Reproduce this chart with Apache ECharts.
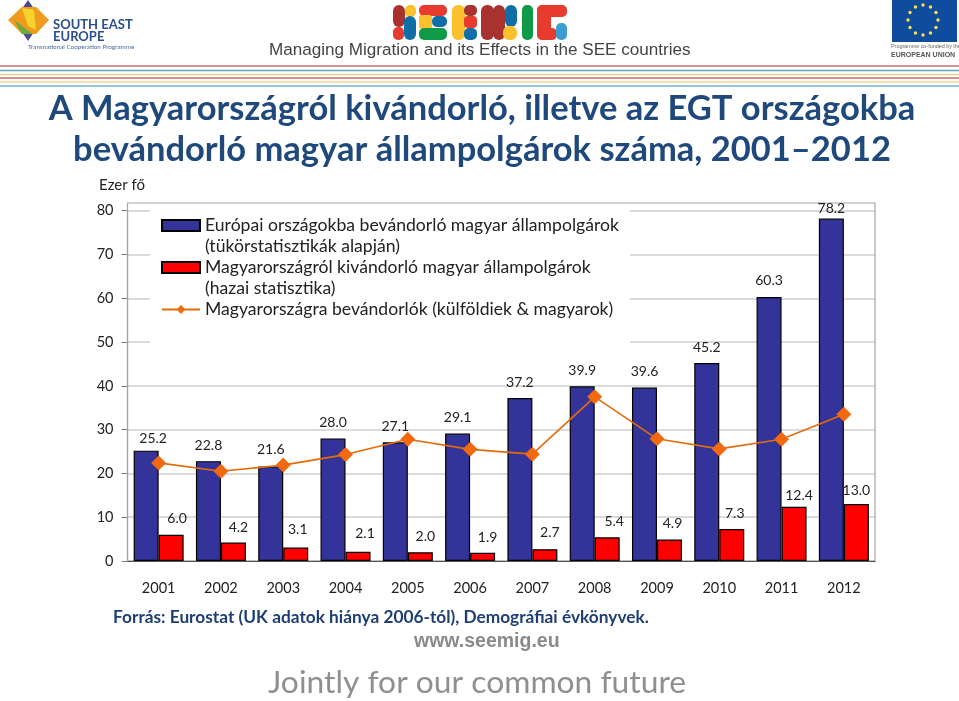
<!DOCTYPE html>
<html><head><meta charset="utf-8">
<style>html,body{margin:0;padding:0;background:#fff}#c{width:959px;height:701px}</style>
<script src="https://cdn.jsdelivr.net/npm/echarts@6/dist/echarts.min.js"></script>
</head><body><div id="c"></div>
<script>
const years = ['2001','2002','2003','2004','2005','2006','2007','2008','2009','2010','2011','2012'];
const emigrantsMirror = [25.2,22.8,21.6,28.0,27.1,29.1,37.2,39.9,39.6,45.2,60.3,78.2];
const emigrantsDomestic = [6.0,4.2,3.1,2.1,2.0,1.9,2.7,5.4,4.9,7.3,12.4,13.0];
const immigrants = [22.4,20.5,21.9,24.3,27.8,25.5,24.4,37.5,27.9,25.6,27.8,33.5];
const yTicks = [0,80,10];
const nameMirror = 'Európai országokba bevándorló magyar állampolgárok\n(tükörstatisztikák alapján)';
const nameDomestic = 'Magyarországról kivándorló magyar állampolgárok\n(hazai statisztika)';
const nameImmigrants = 'Magyarországra bevándorlók (külföldiek & magyarok)';
const mirrorLabelShift = [[7,-5],[0,-9],[0,-10],[0,-9],[0,-9],[0,-9],[0,-9],[0,-9],[0,-9],[0,-9],[0,-9],[0,-3]];
const domesticLabelShift = [[6,-9],[5,-8],[2,-11],[7,-11],[5,-9],[5,-8],[5,-10],[7,-9],[3,-9],[3,-9],[5,-4],[0,-7]];
const FONT = 'Lato';
const labelBase = {show:true,position:'top',distance:0,fontFamily:FONT,fontSize:14,color:'#222',formatter:p=>p.value.toFixed(1)};
const withShift = (vals,shift)=>vals.map((v,i)=>({value:v,label:{offset:shift[i]}}));

const stripes = [[66,'#c4686a'],[70.5,'#5fa5c0'],[74.5,'#e2d48c'],[78,'#d0686a'],[82,'#f0dc8c'],[86,'#6fb5cc']];
const lw = (x,y,w,h,fill,r)=>({type:'rect',silent:true,z:6,shape:{x,y,width:w,height:h,r:r||0},style:{fill}});
const seemigBlocks = [
 [393,5,12,22,'#a8322d',6],[405,5,11,12,'#fbc02d',5],[393,27,11,13,'#e63b2e',5],[404,16,12,24,'#0f6ea6',6],
 [419,5,28,11,'#e63b2e',5],[419,15,13,14,'#fbc02d',3],[432,16,15,11,'#0f6ea6',5],[419,28,28,12,'#0f9a48',5],
 [452,5,13,35,'#fbc02d',6],[464,5,13,11,'#a8322d',5],[464,16,13,12,'#e63b2e',4],[464,28,13,12,'#0f6ea6',5],
 [481,5,13,35,'#a8322d',6],[493,5,12,35,'#a8322d',6],[505,5,12,22,'#0f6ea6',6],[503,26,14,14,'#fbc02d',6],
 [522,5,11,35,'#0f9a48',5],
 [537,5,30,12,'#e63b2e',5],[537,5,14,35,'#e63b2e',6],[537,28,20,12,'#e63b2e',5],[556,23,11,17,'#3a9fd0',5]
];
const stars = [];
for(let i=0;i<12;i++){const a=i*Math.PI/6;stars.push({type:'circle',silent:true,z:7,shape:{cx:923+15*Math.sin(a),cy:20-15*Math.cos(a),r:1.7},style:{fill:'#ffe14d'}});}
const txt = (text,x,y,font,fill,align)=>({type:'text',silent:true,z:6,x,y,style:{text,font,fill,textAlign:align||'left',textVerticalAlign:'middle'}});
const graphics = [
 {type:'rect',silent:true,z:1,shape:{x:150,y:204,width:480,height:141},style:{fill:'#fff'}},
 {type:'rect',silent:true,z:1,shape:{x:127.5,y:203,width:747.5,height:358},style:{fill:'none',stroke:'#a6a6a6',lineWidth:1.2}},
 ...stripes.map(s=>({type:'line',silent:true,z:6,shape:{x1:0,y1:s[0],x2:959,y2:s[0]},style:{stroke:s[1],lineWidth:1.6}})),
 {type:'polygon',silent:true,z:6,shape:{points:[[28,0],[42,20],[28,41],[14,20]]},style:{fill:'#4b4a93'}},
 {type:'polygon',silent:true,z:6,shape:{points:[[8,20],[22,7],[36,7],[49,20],[36,34],[22,34]]},style:{fill:'#f09a1f'}},
 {type:'polygon',silent:true,z:6,shape:{points:[[14,20],[22,34],[33,34]]},style:{fill:'#6aab3a'}},
 {type:'polygon',silent:true,z:6,shape:{points:[[22,8],[34,10],[36,30],[28,26]]},style:{fill:'#f5d32b'}},
 txt('SOUTH EAST',53,25,'bold 13px '+FONT,'#2b4f8c'),
 txt('EUROPE',53,37,'bold 13px '+FONT,'#2b4f8c'),
 txt('Transnational Cooperation Programme',28,47,'6.3px '+FONT,'#4a6a9c'),
 ...seemigBlocks.map(b=>lw(b[0],b[1],b[2],b[3],b[4],b[5])),
 txt('Managing Migration and its Effects in the SEE countries',269,50,'17.1px "Liberation Sans"','#444'),
 {type:'rect',silent:true,z:6,shape:{x:892,y:0,width:65,height:42},style:{fill:'#0f4c9e'}},
 ...stars,
 txt('Programme co-funded by the',891,47,'5.4px "Liberation Sans"','#666'),
 txt('EUROPEAN UNION',891,55,'bold 7px "Liberation Sans"','#555'),
 txt('Ezer fő',99,185,'15px '+FONT,'#222'),
 txt('Forrás: Eurostat (UK adatok hiánya 2006-tól), Demográfiai évkönyvek.',113,617,'bold 17.3px '+FONT,'#1f3f73'),
 txt('www.seemig.eu',414,642,'bold 19.5px "Liberation Sans"','#8a8a8a'),
 txt('Jointly for our common future',268,683,'400 31.8px '+FONT,'#8f8f8f')
];
const chart = echarts.init(document.getElementById('c'),null,{renderer:'canvas'});
chart.setOption({
 backgroundColor:'#fff',
 animation:false,
 title:{text:'A Magyarországról kivándorló, illetve az EGT országokba\nbevándorló magyar állampolgárok száma, 2001–2012',left:477,textAlign:'center',top:83,
  textStyle:{fontFamily:FONT,fontWeight:'bold',fontSize:34.5,lineHeight:41,color:'#1f497d',align:'center'}},
 grid:{left:127.5,right:84,top:210.7,bottom:140,containLabel:false},
 legend:{left:156,top:189,orient:'vertical',align:'left',itemWidth:38,itemHeight:11,itemGap:-21,z:5,
  selectedMode:false,
  textStyle:{fontFamily:FONT,fontSize:17.6,color:'#222',lineHeight:21},
  formatter:n=>n===nameImmigrants?' \n'+n+'\n ':' \n'+n,
  data:[{name:nameMirror,icon:'rect'},{name:nameDomestic,icon:'rect'},{name:nameImmigrants}]},
 xAxis:{type:'category',data:years,
  axisLine:{lineStyle:{color:'#000',width:1.2}},
  axisTick:{length:6,lineStyle:{color:'#000',width:1.2},alignWithLabel:false},
  axisLabel:{fontFamily:FONT,fontSize:14.5,color:'#222',margin:20,interval:0},
  splitLine:{show:false}},
 yAxis:{type:'value',min:yTicks[0],max:yTicks[1],interval:yTicks[2],
  axisLine:{show:true,lineStyle:{color:'#a6a6a6',width:1.2}},
  axisTick:{show:true,length:6,lineStyle:{color:'#808080'}},
  axisLabel:{fontFamily:FONT,fontSize:14.5,color:'#222',margin:14},
  splitLine:{show:true,lineStyle:{color:'#cfcfcf',width:1.5}}},
 series:[
  {name:nameMirror,type:'bar',barWidth:25,barGap:'0%',data:withShift(emigrantsMirror,mirrorLabelShift),
   itemStyle:{color:'#333399',borderColor:'#000',borderWidth:1.2},label:labelBase},
  {name:nameDomestic,type:'bar',barWidth:25,data:withShift(emigrantsDomestic,domesticLabelShift),
   itemStyle:{color:'#ff0000',borderColor:'#000',borderWidth:1.2},label:labelBase},
  {name:nameImmigrants,type:'line',data:immigrants,z:4,symbol:'diamond',symbolSize:15,showSymbol:true,
   lineStyle:{color:'#e36c0a',width:1.6},itemStyle:{color:'#f2690f'}}
 ],
 graphic:{elements:graphics}
});
</script></body></html>
